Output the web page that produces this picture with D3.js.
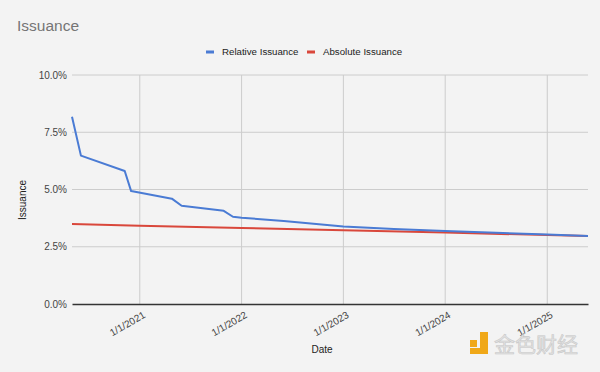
<!DOCTYPE html>
<html>
<head>
<meta charset="utf-8">
<script src="https://cdn.jsdelivr.net/npm/d3@7"></script>
<style>
  body { margin: 0; background: #f3f3f3; }
  svg { display: block; font-family: "Liberation Sans", Arial, sans-serif; }
  .tick text { fill: #444; font-size: 10px; }
</style>
</head>
<body>
<svg id="chart" width="600" height="372"></svg>
<script>
// DATA
const relDates = ["2020-05-03", "2020-06-04", "2020-11-08", "2020-12-01", "2021-04-26", "2021-05-31",
                  "2021-10-29", "2021-12-01", "2022-01-01", "2022-06-01", "2023-01-01", "2023-07-01",
                  "2024-01-01", "2024-07-01", "2025-01-01", "2025-05-27"];
const relValues = [8.18, 6.48, 5.81, 4.93, 4.60, 4.29, 4.07, 3.81, 3.77, 3.62, 3.38, 3.27, 3.19, 3.11, 3.03, 2.97];

const absDates = ["2020-05-03", "2021-01-01", "2022-01-01", "2023-01-01", "2024-01-01", "2025-01-01", "2025-05-27"];
const absValues = [3.49, 3.42, 3.32, 3.22, 3.12, 3.01, 2.97];

const yTicks = [0, 2.5, 5, 7.5, 10];
const xTicks = ["2021-01-01", "2022-01-01", "2023-01-01", "2024-01-01", "2025-01-01"];
const seriesNames = ["Relative Issuance", "Absolute Issuance"];
const colors = ["#4a7bd4", "#d9473b"];

// SETUP
const margin = { top: 75, right: 12, bottom: 68, left: 72 },
      width = 600 - margin.left - margin.right,
      height = 372 - margin.top - margin.bottom;

const parse = d3.timeParse("%Y-%m-%d");
const relData = relDates.map((d, i) => ({ date: parse(d), value: relValues[i] }));
const absData = absDates.map((d, i) => ({ date: parse(d), value: absValues[i] }));

const svg = d3.select("#chart");
const g = svg.append("g").attr("transform", `translate(${margin.left},${margin.top})`);

// SCALES
const xScale = d3.scaleTime()
    .domain([parse("2020-05-03"), parse("2025-05-27")])
    .range([0, width]);
const yScale = d3.scaleLinear().domain([0, 10]).range([height, 0]);

// GRID
g.append("g")
    .selectAll("line")
    .data(yTicks.slice(1))
    .join("line")
    .attr("x1", 0).attr("x2", width)
    .attr("y1", d => yScale(d)).attr("y2", d => yScale(d))
    .attr("stroke", "#cccccc");

g.append("g")
    .selectAll("line")
    .data(xTicks.map(parse))
    .join("line")
    .attr("x1", d => xScale(d)).attr("x2", d => xScale(d))
    .attr("y1", 0).attr("y2", height)
    .attr("stroke", "#cccccc");

// AXES
const yAxis = g.append("g")
    .call(d3.axisLeft(yScale).tickValues(yTicks).tickSize(0).tickPadding(5)
        .tickFormat(d => d.toFixed(1) + "%"));
yAxis.select(".domain").remove();

const xAxis = g.append("g")
    .attr("transform", `translate(0,${height})`)
    .call(d3.axisBottom(xScale).tickValues(xTicks.map(parse)).tickSize(0)
        .tickFormat(d3.timeFormat("%-m/%-d/%Y")));
xAxis.select(".domain").attr("stroke", "#333").attr("stroke-width", 1.5);
xAxis.selectAll("text")
    .attr("text-anchor", "end")
    .attr("transform", "translate(4,10) rotate(-30)")
    .attr("dy", "0.35em")
    .attr("y", 0);

// LINES
const line = d3.line().x(d => xScale(d.date)).y(d => yScale(d.value));

g.append("path")
    .datum(absData)
    .attr("fill", "none")
    .attr("stroke", colors[1])
    .attr("stroke-width", 2)
    .attr("d", line);

g.append("path")
    .datum(relData)
    .attr("fill", "none")
    .attr("stroke", colors[0])
    .attr("stroke-width", 2)
    .attr("stroke-linejoin", "round")
    .attr("d", line);

// TITLE
svg.append("text")
    .attr("x", 17).attr("y", 31)
    .attr("fill", "#757575")
    .attr("font-size", 15.5)
    .text("Issuance");

// LEGEND
const legendX = [206, 307];
const legend = svg.append("g")
    .selectAll("g")
    .data(seriesNames)
    .join("g")
    .attr("transform", (d, i) => `translate(${legendX[i]},52)`);
legend.append("rect")
    .attr("x", 0).attr("y", -1.5).attr("width", 8).attr("height", 3)
    .attr("fill", (d, i) => colors[i]);
legend.append("text")
    .attr("x", 16).attr("dy", "0.35em")
    .attr("font-size", 9.7)
    .attr("fill", "#222")
    .text(d => d);

// AXIS LABELS
svg.append("text")
    .attr("x", 322).attr("y", 353)
    .attr("text-anchor", "middle")
    .attr("font-size", 10)
    .attr("fill", "#222")
    .text("Date");

svg.append("text")
    .attr("transform", "translate(26,200) rotate(-90)")
    .attr("text-anchor", "middle")
    .attr("font-size", 10)
    .attr("fill", "#222")
    .text("Issuance");

// WATERMARK
const wm = svg.append("g").attr("transform", "translate(470,340)");
wm.append("rect").attr("x", 0).attr("y", 0).attr("width", 7).attr("height", 7).attr("fill", "#f0a818");
wm.append("path").attr("d", "M10,-8 h8 v22 h-18 v-6 h10 z").attr("fill", "#f0a818");
wm.append("text")
    .attr("x", 24).attr("y", 12)
    .attr("font-family", "Noto Sans CJK SC")
    .attr("font-size", 21)
    .attr("fill", "#e2e2e2")
    .attr("stroke", "#c8c8c8")
    .attr("stroke-width", 0.6)
    .text("金色财经");
</script>
</body>
</html>
